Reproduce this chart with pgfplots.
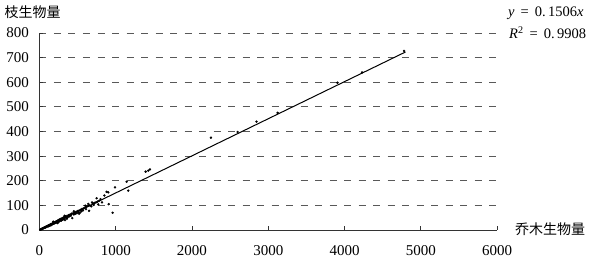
\documentclass[border=0pt]{standalone}
\usepackage{pgfplots}
\pgfplotsset{compat=1.18}
\usepackage{fontspec}
\setmainfont{Liberation Serif}
\newfontfamily\cjk{Noto Sans CJK SC}
\begin{document}
\begin{tikzpicture}
\path[use as bounding box] (-39.5pt,-29pt) rectangle (552.5pt,230pt);
\begin{axis}[
  scale only axis, width=457.5pt, height=197pt,
  at={(0pt,0pt)}, anchor=south west,
  xmin=0, xmax=6000, ymin=0, ymax=800,
  axis x line*=bottom, axis y line*=left,
  axis line style={black!80, line width=0.8pt},
  xtick={0,1000,...,6000}, ytick={0,100,...,800},
  tick align=inside, major tick length=4pt,
  tick style={black!80, line width=0.8pt},
  ymajorgrids,
  major grid style={dash pattern=on 7pt off 7.5pt, black!65, line width=0.9pt},
  scaled x ticks=false,
  /pgf/number format/1000 sep={},
  /pgf/number format/assume math mode=true,
  tick label style={font=\fontsize{15}{15}\selectfont},
  xticklabel style={yshift=-12pt},
  yticklabel style={xshift=-7pt},
  clip=false,
]
\addplot[only marks, mark=*, mark size=1pt, black] coordinates {
(10,1.5) (15,2) (20,3.5) (25,3) (30,5) (35,4.8) (40,6.5) (45,6) (50,8) (55,7)
(60,9.5) (65,9) (70,11) (75,10) (80,12.5) (85,13) (90,12) (95,15) (100,14) (105,17)
(110,16) (115,15) (120,19) (125,18) (130,20) (135,17) (140,22) (145,21) (150,24) (155,20)
(160,25) (165,23) (170,27) (175,24) (180,28) (185,26) (190,30) (195,27) (200,31) (205,29)
(210,33) (215,30) (220,35) (225,32) (230,36) (235,28) (240,38) (245,35) (250,40) (255,34)
(260,42) (265,37) (270,43) (275,39) (280,45) (285,38) (290,46) (295,41) (300,48) (305,42)
(310,50) (315,44) (320,52) (325,45) (330,53) (335,40) (340,55) (350,49) (360,57) (370,52)
(380,60) (390,55) (400,62) (410,58) (420,66) (430,48) (440,68) (450,63) (460,70) (470,66)
(480,74) (490,68) (500,77) (510,72) (520,79) (530,70) (540,82) (550,76) (560,86) (570,80)
(580,88) (600,92) (610,85) (620,95) (640,98) (650,78) (660,100) (680,96) (700,108) (710,102)
(720,110) (740,112) (750,129) (760,115) (780,118) (800,125) (820,112) (850,140) (880,155) (902,153)
(907,105) (959,70) (990,173) (1143,196) (1164,160) (1392,237) (1426,241) (1448,246)
(2248,375) (2598,398) (2846,440) (3122,476) (3908,598) (4231,640) (4781,727)
(180,34) (240,30) (330,58) (360,46) (450,76) (520,66) (600,99) (690,112) (770,104) (640,106)
};
\addplot[black, line width=1pt] coordinates {(0,0) (4800,722.9)};
\end{axis}
\node[anchor=west, inner sep=0pt, font=\cjk\fontsize{14}{14}\selectfont] at (-35pt,218pt) {枝生物量};
\node[anchor=west, inner sep=0pt, font=\cjk\fontsize{14}{14}\selectfont] at (475.5pt,1pt) {乔木生物量};
\node[anchor=west, inner sep=0pt, font=\fontsize{14.5}{15}\selectfont] at (468.5pt,217pt) {\textit{y} \,=\, 0.\,1506\textit{x}};
\node[anchor=west, inner sep=0pt, font=\fontsize{14.5}{15}\selectfont] at (469.5pt,197pt) {\textit{R}\textsuperscript{2} \,=\, 0.\,9908};
\end{tikzpicture}
\end{document}
